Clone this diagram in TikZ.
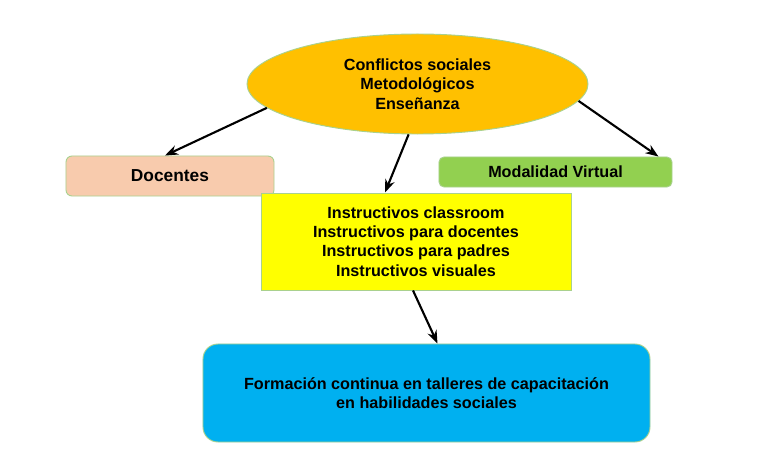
\documentclass[tikz,border=0pt]{standalone}
\usepackage{fontspec}
\setmainfont{Liberation Sans}
\usetikzlibrary{calc,arrows.meta,shapes.geometric}
\definecolor{bordeverde}{HTML}{A9D18E}
\definecolor{naranja}{HTML}{FFC000}
\definecolor{salmon}{HTML}{F8CBAD}
\definecolor{verde}{HTML}{92D050}
\definecolor{amarillo}{HTML}{FFFF00}
\definecolor{celeste}{HTML}{00B0F0}
\begin{document}
\begin{tikzpicture}[x=0.03cm, y=-0.03cm, >=Stealth,
    caja/.style={draw=bordeverde, line width=0.8pt, align=center, font=\bfseries\fontsize{13.8}{16.5}\selectfont},
    flecha/.style={->, line width=1.8pt}]
  \useasboundingbox (0,0) rectangle (778,453);

  % centro
  \node [caja, ellipse, fill=naranja, minimum width=10.23cm, minimum height=3cm, inner sep=0pt] (conflictos) at (417.5,84)
      {Conflictos sociales\\Metodológicos\\Enseñanza};

  % ramas
  \node [caja, rounded corners=0.18cm, fill=salmon, minimum width=6.24cm, minimum height=1.2cm, font=\bfseries\fontsize{14.8}{16}\selectfont] (docentes) at (170,176) {Docentes};
  \node [caja, rounded corners=0.15cm, fill=verde, minimum width=6.99cm, minimum height=0.9cm] (modalidad) at (555.5,172) {Modalidad Virtual};
  \node [caja, fill=amarillo, minimum width=9.3cm, minimum height=2.91cm] (instructivos) at (416,241.5)
      {Instructivos classroom\\Instructivos para docentes\\Instructivos para padres\\Instructivos visuales};

  % resultado
  \node [caja, rounded corners=0.45cm, fill=celeste, minimum width=13.41cm, minimum height=2.94cm] (formacion) at (426.5,393)
      {Formación continua en talleres de capacitación\\en habilidades sociales};

  % flechas
  \draw [flecha] (conflictos.189) -- ($(docentes.north)+(-5,0)$);
  \draw [flecha] (conflictos.260) -- ($(instructivos.north)+(-31,0)$);
  \draw [flecha] (conflictos.354) -- ($(modalidad.north east)+(-14,0)$);
  \draw [flecha] ($(instructivos.south)+(-3,0)$) -- ($(formacion.north)+(11,0)$);

\end{tikzpicture}
\end{document}
